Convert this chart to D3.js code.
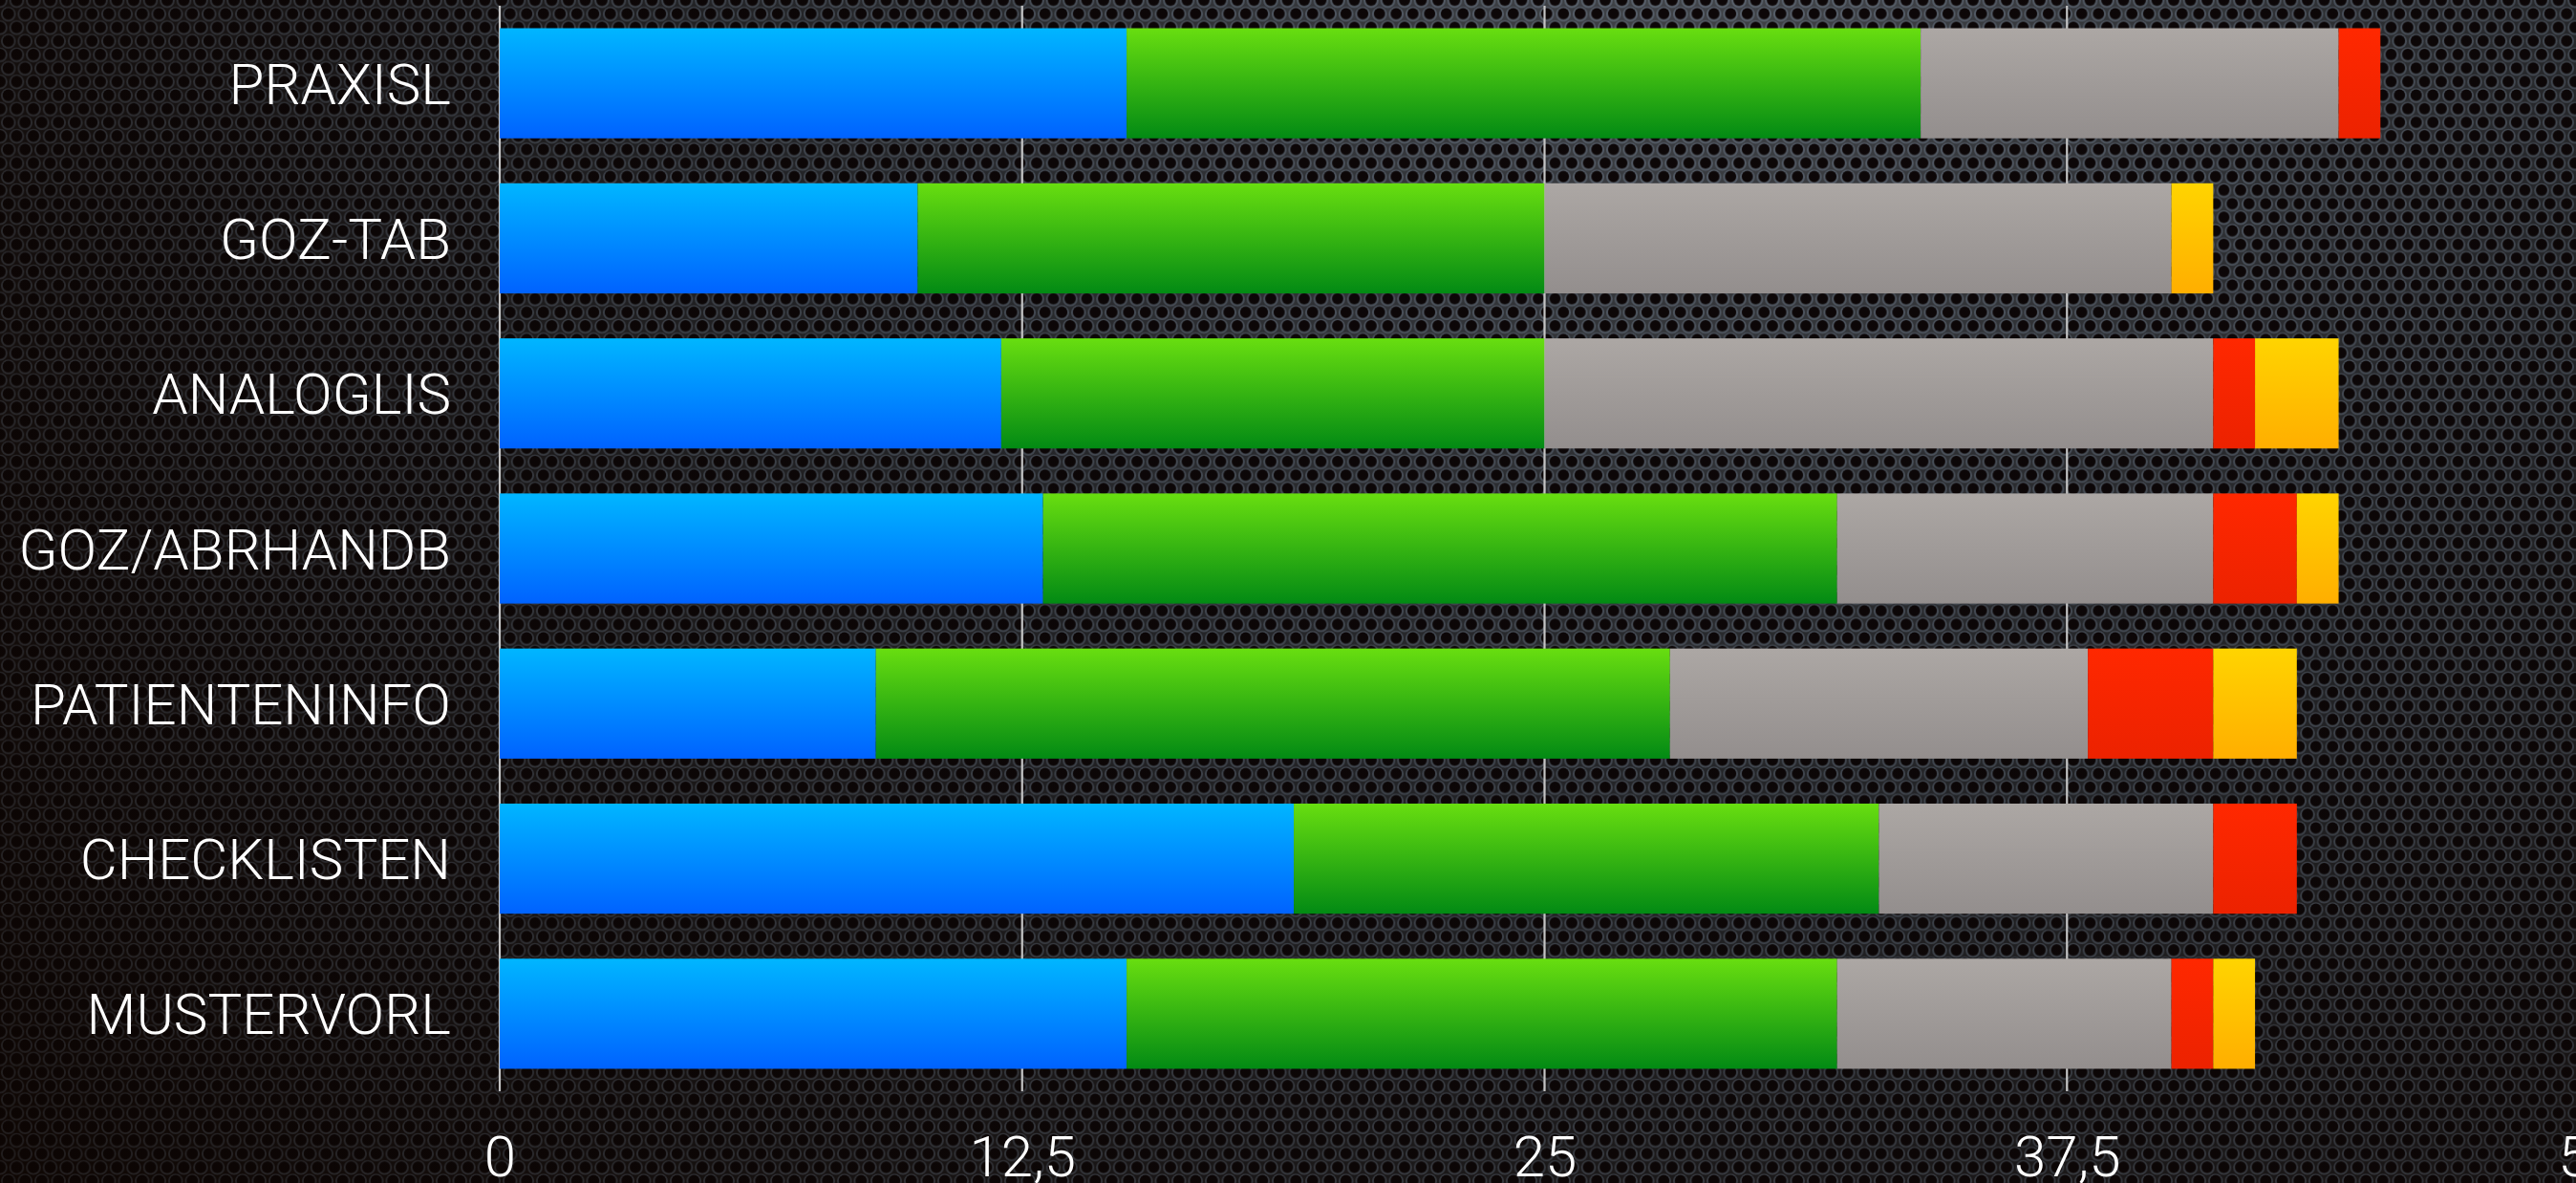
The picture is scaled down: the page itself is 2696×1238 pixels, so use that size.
<!DOCTYPE html>
<html>
<head>
<meta charset="utf-8">
<script src="https://cdn.jsdelivr.net/npm/d3@7"></script>
<style>
  html, body { margin: 0; padding: 0; background: #111; overflow: hidden; }
  svg text { font-family: "Helvetica Neue", Roboto, Lato, "Liberation Sans", sans-serif; font-weight: 300; fill: #fff; }
</style>
</head>
<body>
<svg id="chart" width="2696" height="1238"></svg>
<script>
// values
const categories = ["PRAXISL", "GOZ-TAB", "ANALOGLIS", "GOZ/ABRHANDB", "PATIENTENINFO", "CHECKLISTEN", "MUSTERVORL"];
const seriesKeys = ["blue", "green", "gray", "red", "yellow"];
const blueValues = [15, 10, 12, 13, 9, 19, 15];
const greenValues = [19, 15, 13, 19, 19, 14, 17];
const grayValues = [10, 15, 16, 9, 10, 8, 8];
const redValues = [1, 0, 1, 2, 3, 2, 1];
const yellowValues = [0, 1, 2, 1, 2, 0, 1];
const tickValues = [0, 12.5, 25, 37.5, 50];
const tickLabels = ["0", "12,5", "25", "37,5", "50"];

const svg = d3.select("#chart");
const width = +svg.attr("width");
const height = +svg.attr("height");
const margin = { top: 6, right: -14, bottom: 96, left: 523 };

const defs = svg.append("defs");

// gradients for the bars (lighter on top)
const barColors = {
  blue: ["#00b6ff", "#0062ff"],
  green: ["#68de10", "#028a14"],
  gray: ["#aca7a4", "#938e8d"],
  red: ["#ff2800", "#ec2200"],
  yellow: ["#ffd400", "#ffae00"]
};
Object.entries(barColors).forEach(([k, [c0, c1]]) => {
  const lg = defs.append("linearGradient").attr("id", "grad-" + k)
    .attr("x1", 0).attr("y1", 0).attr("x2", 0).attr("y2", 1);
  lg.append("stop").attr("offset", "0%").attr("stop-color", c0);
  lg.append("stop").attr("offset", "100%").attr("stop-color", c1);
});

// perforated metal background
const plate = defs.append("radialGradient").attr("id", "plate")
  .attr("gradientUnits", "userSpaceOnUse")
  .attr("cx", 1800).attr("cy", -150).attr("r", 2300);
plate.append("stop").attr("offset", "0%").attr("stop-color", "#46494e");
plate.append("stop").attr("offset", "45%").attr("stop-color", "#2a2c30");
plate.append("stop").attr("offset", "100%").attr("stop-color", "#140b08");

const holeW = 17.5, holeH = 14.2;
const pat = defs.append("pattern").attr("id", "holes")
  .attr("patternUnits", "userSpaceOnUse")
  .attr("width", holeW).attr("height", holeH * 2);
[[0, 0], [holeW, 0], [holeW / 2, holeH], [0, holeH * 2], [holeW, holeH * 2]].forEach(([cx, cy]) => {
  pat.append("circle").attr("cx", cx).attr("cy", cy + 0.6).attr("r", 6.9)
    .attr("fill", "none").attr("stroke", "rgba(125,140,160,0.45)").attr("stroke-width", 1.8);
  pat.append("circle").attr("cx", cx).attr("cy", cy).attr("r", 5.8).attr("fill", "#0d0708");
});

const shade = defs.append("radialGradient").attr("id", "shade")
  .attr("gradientUnits", "userSpaceOnUse")
  .attr("cx", 1800).attr("cy", -150).attr("r", 2400);
shade.append("stop").attr("offset", "0%").attr("stop-color", "rgba(0,0,0,0)");
shade.append("stop").attr("offset", "50%").attr("stop-color", "rgba(8,4,2,0.25)");
shade.append("stop").attr("offset", "100%").attr("stop-color", "rgba(12,4,0,0.65)");

svg.append("rect").attr("width", width).attr("height", height).attr("fill", "url(#plate)");
svg.append("rect").attr("width", width).attr("height", height).attr("fill", "url(#holes)");
svg.append("rect").attr("width", width).attr("height", height).attr("fill", "url(#shade)");

const innerWidth = width - margin.left - margin.right;
const innerHeight = height - margin.top - margin.bottom;

const g = svg.append("g").attr("transform", `translate(${margin.left},${margin.top})`);

const x = d3.scaleLinear().domain([0, 50]).range([0, innerWidth]);
const y = d3.scaleBand().domain(categories).range([0, innerHeight])
  .paddingInner(0.29).paddingOuter(0.145);

// grid lines
g.append("g")
  .selectAll("line")
  .data(tickValues)
  .join("line")
  .attr("x1", d => x(d)).attr("x2", d => x(d))
  .attr("y1", 0).attr("y2", innerHeight)
  .attr("stroke", "#c4c4c4")
  .attr("stroke-width", 2.2);

// stacked bars
const rows = categories.map((c, i) => ({
  category: c,
  blue: blueValues[i],
  green: greenValues[i],
  gray: grayValues[i],
  red: redValues[i],
  yellow: yellowValues[i]
}));
const stacked = d3.stack().keys(seriesKeys)(rows);

g.append("g")
  .selectAll("g")
  .data(stacked)
  .join("g")
  .attr("fill", d => `url(#grad-${d.key})`)
  .selectAll("rect")
  .data(d => d.filter(p => p[1] > p[0]))
  .join("rect")
  .attr("x", d => x(d[0]))
  .attr("y", d => y(d.data.category))
  .attr("width", d => x(d[1]) - x(d[0]))
  .attr("height", y.bandwidth());

// category labels
g.append("g")
  .selectAll("text")
  .data(categories)
  .join("text")
  .attr("x", -51)
  .attr("y", d => y(d) + y.bandwidth() / 2)
  .attr("dy", "0.36em")
  .attr("text-anchor", "end")
  .attr("font-size", 60)
  .text(d => d);

// value axis labels
const xAxis = d3.axisBottom(x)
  .tickValues(tickValues)
  .tickFormat((d, i) => tickLabels[i])
  .tickSize(0)
  .tickPadding(0);

const axisG = g.append("g")
  .attr("transform", `translate(0,${innerHeight})`)
  .call(xAxis);
axisG.select(".domain").remove();
axisG.selectAll("text")
  .attr("y", 89)
  .attr("dy", 0)
  .attr("font-size", 60)
  .attr("fill", "#fff")
  .style("font-family", null);
</script>
</body>
</html>
